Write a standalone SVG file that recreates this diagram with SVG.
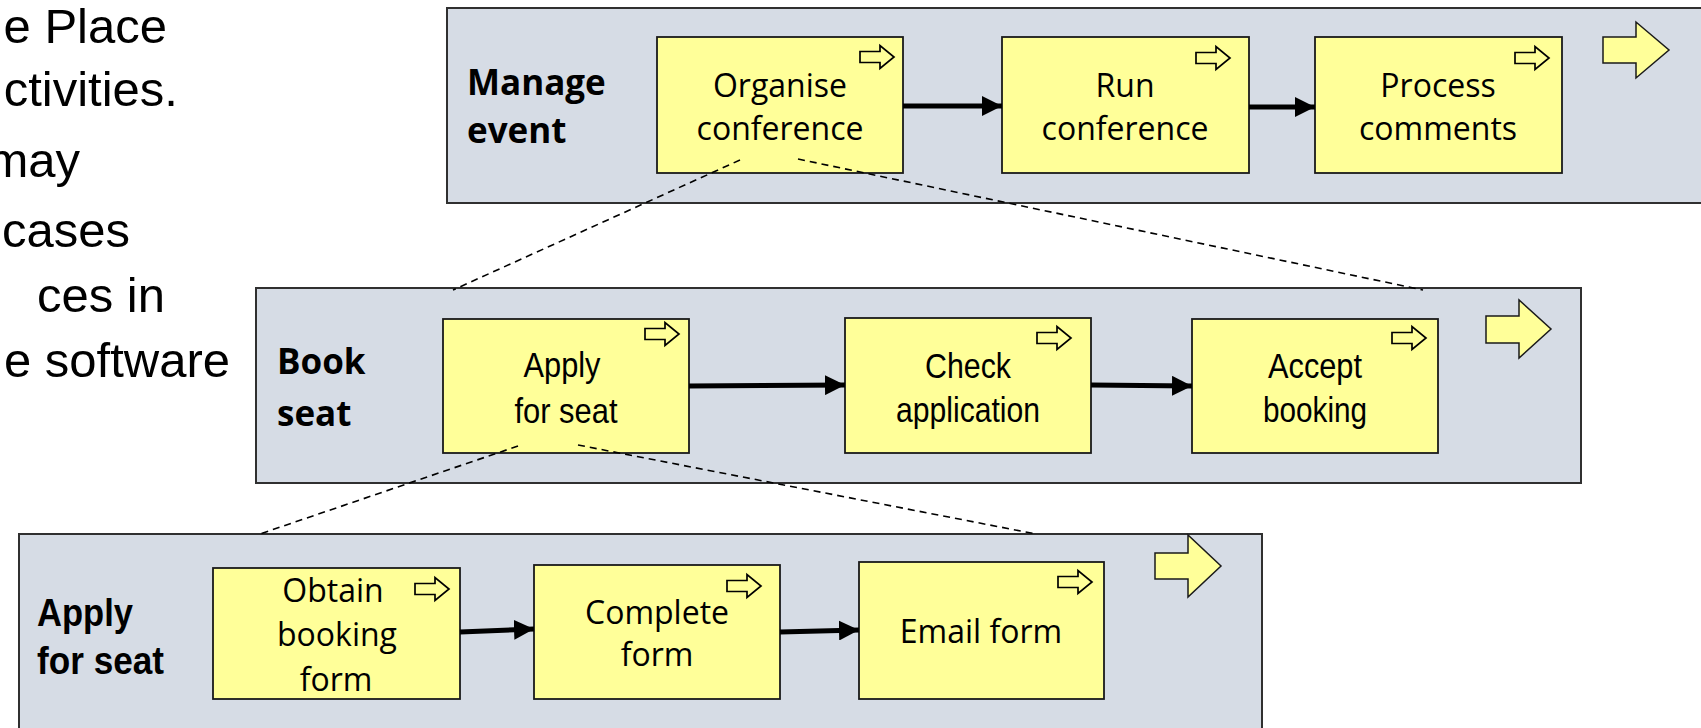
<svg xmlns="http://www.w3.org/2000/svg" width="1701" height="728" viewBox="0 0 1701 728">
<style>
.bg{fill:#ffffff}
.panel{fill:#d6dce5;stroke:#303030;stroke-width:2}
.node{fill:#ffff99;stroke:#1a1a1a;stroke-width:1.8}
.blk{fill:#ffff99;stroke:#1a1a1a;stroke-width:1.5}
.mini{fill:#ffff99;stroke:#000;stroke-width:1.7}
.flow{stroke:#000;stroke-width:5;fill:none}
.dash{stroke:#000;stroke-width:1.6;stroke-dasharray:7 5;fill:none}
.side{font-family:"Liberation Sans",Arial,sans-serif;font-size:49px;fill:#000}
.lbl{font-family:"Open Sans","Noto Sans",sans-serif;font-weight:bold;font-size:35px;fill:#000}
.lbla{font-family:"Liberation Sans",Arial,sans-serif;font-weight:bold;font-size:39px;fill:#000}
.t{font-family:"Open Sans","Noto Sans",sans-serif;font-size:32px;fill:#000;text-anchor:middle}
.tn{font-family:"Liberation Sans",Arial,sans-serif;font-size:35px;fill:#000;text-anchor:middle}
</style>
<defs>
<marker id="ah" markerUnits="userSpaceOnUse" markerWidth="20" markerHeight="20" viewBox="0 0 18 18" refX="18" refY="9" orient="auto">
<path d="M0,0 L18,9 L0,18 Z" fill="#000"/>
</marker>
<path id="mini" d="M0,-5.5 H20 V-11.5 L34,0 L20,11.5 V5.5 H0 Z"/>
</defs>
<rect class="bg" x="0" y="0" width="1701" height="728"/>

<g id="side-text">
<text class="side" x="167" y="43" text-anchor="end">e Place</text>
<text class="side" x="178" y="106" text-anchor="end">ctivities.</text>
<text class="side" x="80" y="177" text-anchor="end">may</text>
<text class="side" x="130" y="247" text-anchor="end">cases</text>
<text class="side" x="165" y="312" text-anchor="end">ces in</text>
<text class="side" x="230" y="377" text-anchor="end">e software</text>
</g>

<g id="panel-manage-event">
<rect class="panel" x="447" y="8" width="1300" height="195"/>
<text class="lbl" x="467" y="95">Manage</text>
<text class="lbl" x="467" y="143">event</text>
<polygon class="blk" points="1603,37 1636,37 1636,22 1669,50 1636,78 1636,63 1603,63"/>
</g>

<g id="panel-book-seat">
<rect class="panel" x="256" y="288" width="1325" height="195"/>
<text class="lbl" x="277" y="374">Book</text>
<text class="lbl" x="277" y="426">seat</text>
<polygon class="blk" points="1486,316 1519,316 1519,300 1551,329 1519,358 1519,343 1486,343"/>
</g>

<g id="panel-apply-for-seat">
<rect class="panel" x="19" y="534" width="1243" height="220"/>
<text class="lbla" x="37" y="626" textLength="96" lengthAdjust="spacingAndGlyphs">Apply</text>
<text class="lbla" x="37" y="674" textLength="127" lengthAdjust="spacingAndGlyphs">for seat</text>
<polygon class="blk" points="1155,553 1188,553 1188,535 1221,566 1188,597 1188,579 1155,579"/>
</g>

<g id="node-organise-conference">
<rect class="node" x="657" y="37" width="246" height="136"/>
<use href="#mini" class="mini" x="860" y="57"/>
<text class="t" x="780" y="97">Organise</text>
<text class="t" x="780" y="140">conference</text>
</g>
<g id="node-run-conference">
<rect class="node" x="1002" y="37" width="247" height="136"/>
<use href="#mini" class="mini" x="1196" y="58"/>
<text class="t" x="1125" y="97">Run</text>
<text class="t" x="1125" y="140">conference</text>
</g>
<g id="node-process-comments">
<rect class="node" x="1315" y="37" width="247" height="136"/>
<use href="#mini" class="mini" x="1515" y="58"/>
<text class="t" x="1438" y="97">Process</text>
<text class="t" x="1438" y="140">comments</text>
</g>

<g id="node-apply-for-seat">
<rect class="node" x="443" y="319" width="246" height="134"/>
<use href="#mini" class="mini" x="645" y="334"/>
<text class="tn" x="562" y="377" textLength="77" lengthAdjust="spacingAndGlyphs">Apply</text>
<text class="tn" x="566" y="423" textLength="103" lengthAdjust="spacingAndGlyphs">for seat</text>
</g>
<g id="node-check-application">
<rect class="node" x="845" y="318" width="246" height="135"/>
<use href="#mini" class="mini" x="1037" y="338"/>
<text class="tn" x="968" y="378" textLength="86" lengthAdjust="spacingAndGlyphs">Check</text>
<text class="tn" x="968" y="422" textLength="144" lengthAdjust="spacingAndGlyphs">application</text>
</g>
<g id="node-accept-booking">
<rect class="node" x="1192" y="319" width="246" height="134"/>
<use href="#mini" class="mini" x="1392" y="338"/>
<text class="tn" x="1315" y="378" textLength="94" lengthAdjust="spacingAndGlyphs">Accept</text>
<text class="tn" x="1315" y="422" textLength="104" lengthAdjust="spacingAndGlyphs">booking</text>
</g>

<g id="node-obtain-booking-form">
<rect class="node" x="213" y="568" width="247" height="131"/>
<use href="#mini" class="mini" x="415" y="589"/>
<text class="t" x="333" y="602">Obtain</text>
<text class="t" x="337" y="646">booking</text>
<text class="t" x="336" y="691">form</text>
</g>
<g id="node-complete-form">
<rect class="node" x="534" y="565" width="246" height="134"/>
<use href="#mini" class="mini" x="727" y="586"/>
<text class="t" x="657" y="624">Complete</text>
<text class="t" x="657" y="666">form</text>
</g>
<g id="node-email-form">
<rect class="node" x="859" y="562" width="245" height="137"/>
<use href="#mini" class="mini" x="1058" y="582"/>
<text class="t" x="981" y="643">Email form</text>
</g>

<g id="connectors">
<line class="flow" x1="903" y1="106" x2="1002" y2="106" marker-end="url(#ah)"/>
<line class="flow" x1="1249" y1="107" x2="1315" y2="107" marker-end="url(#ah)"/>
<line class="flow" x1="689" y1="386" x2="845" y2="385" marker-end="url(#ah)"/>
<line class="flow" x1="1091" y1="385" x2="1192" y2="386" marker-end="url(#ah)"/>
<line class="flow" x1="460" y1="632" x2="534" y2="629" marker-end="url(#ah)"/>
<line class="flow" x1="780" y1="632" x2="859" y2="630" marker-end="url(#ah)"/>
<line class="dash" x1="740" y1="160" x2="453" y2="290"/>
<line class="dash" x1="798" y1="159" x2="1423" y2="290"/>
<line class="dash" x1="518" y1="446" x2="260" y2="534"/>
<line class="dash" x1="578" y1="445" x2="1036" y2="534"/>
</g>
</svg>
